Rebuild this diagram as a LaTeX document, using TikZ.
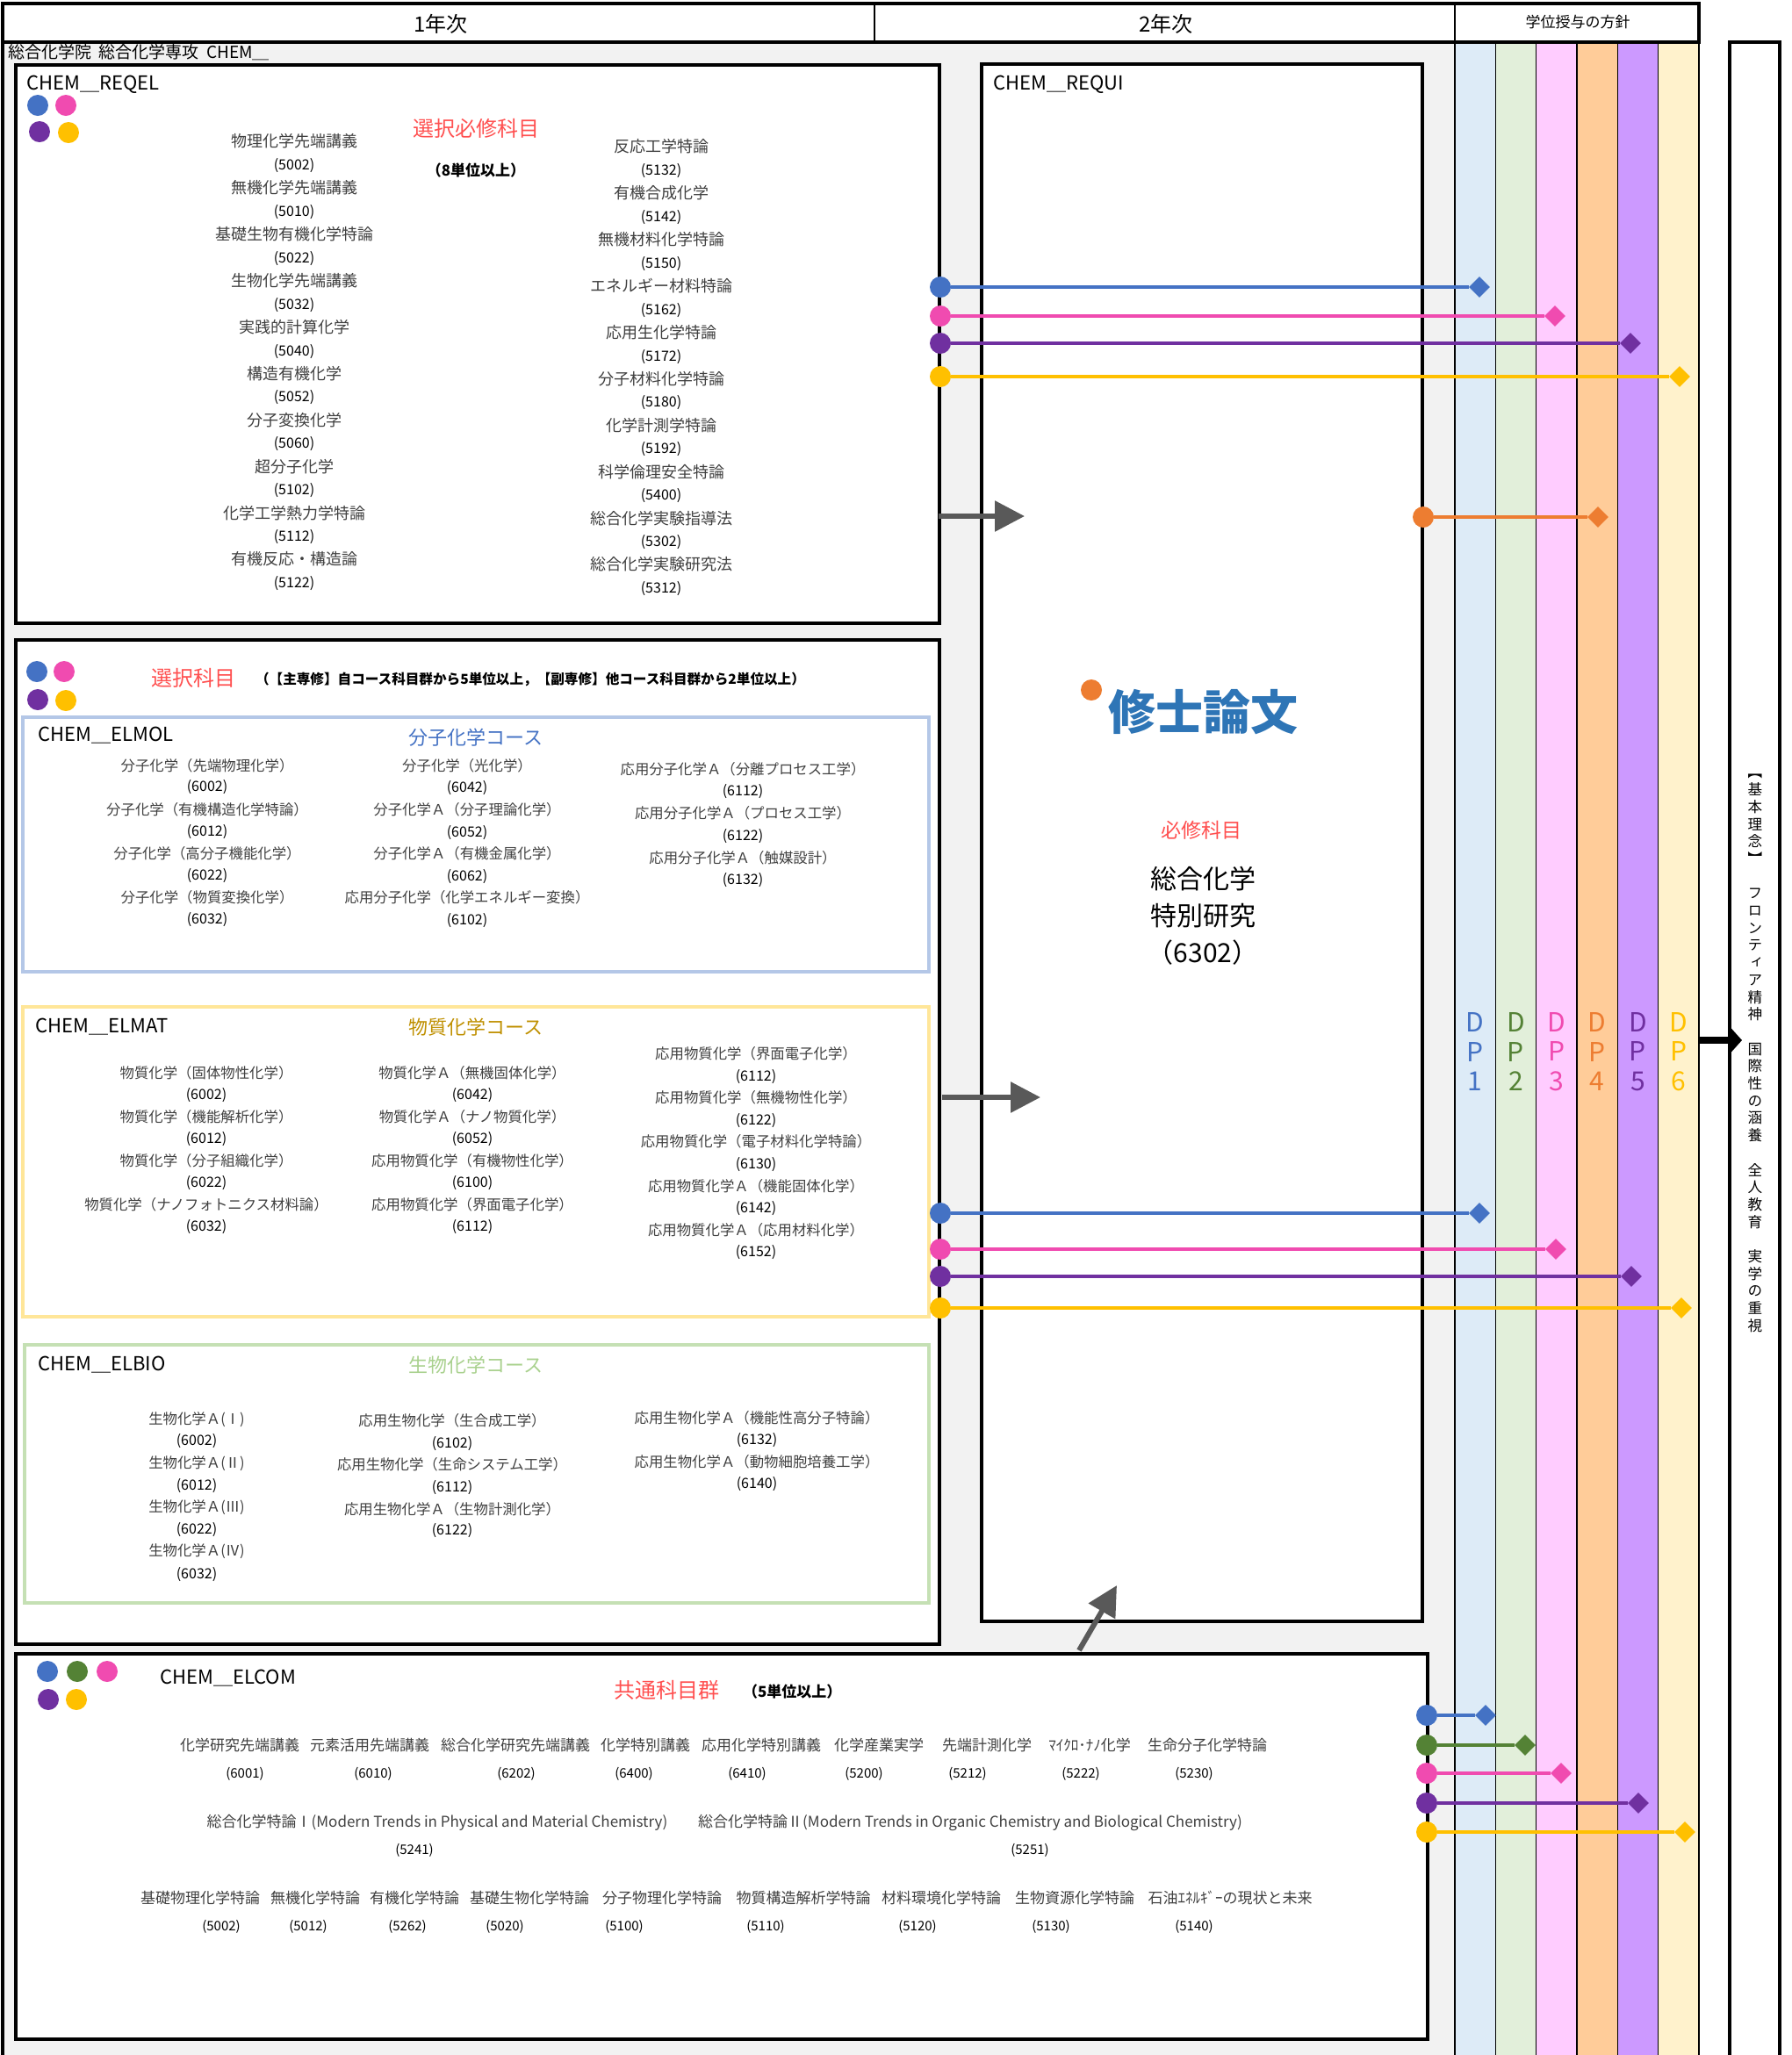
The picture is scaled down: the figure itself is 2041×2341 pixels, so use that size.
\documentclass[tikz,border=0pt]{standalone}
\usepackage{fontspec}
\setmainfont{Noto Sans CJK JP}
\newfontfamily\tatefont{Noto Sans CJK JP}[RawFeature=+vert]
\usetikzlibrary{arrows.meta}
\usetikzlibrary{shapes.geometric}
\definecolor{bggray}{HTML}{F2F2F2}
\definecolor{ttlred}{HTML}{FF5050}
\definecolor{crsgray}{HTML}{404040}
\definecolor{arrowgray}{HTML}{595959}
\definecolor{dpblue}{HTML}{4472C4}
\definecolor{dpgreen}{HTML}{548235}
\definecolor{dppink}{HTML}{F04BB0}
\definecolor{dporange}{HTML}{ED7D31}
\definecolor{dppurple}{HTML}{7030A0}
\definecolor{dpyellow}{HTML}{FFC000}
\definecolor{dp1fill}{HTML}{DDEBF7}
\definecolor{dp2fill}{HTML}{E2EFDA}
\definecolor{dp3fill}{HTML}{FFCCFF}
\definecolor{dp4fill}{HTML}{FFCC99}
\definecolor{dp5fill}{HTML}{CC99FF}
\definecolor{dp6fill}{HTML}{FFF2CC}
\definecolor{molblue}{HTML}{B4C7E7}
\definecolor{matyellow}{HTML}{FFE699}
\definecolor{biogreen}{HTML}{C5E0B4}
\definecolor{mattext}{HTML}{BF9000}
\definecolor{biotext}{HTML}{A9D18E}
\definecolor{thesisblue}{HTML}{2E75B6}
\tikzset{
  cdot/.style={circle, fill=#1, minimum size=12pt, inner sep=0},
  dmnd/.style={diamond, fill=#1, minimum size=12pt, inner sep=0},
  dplink/.style={draw=#1, line width=1.6pt},
  thickbox/.style={line width=2.2pt, fill=white},
  coursebox/.style={line width=2pt, draw=#1, fill=white},
  bigcrs/.style={font=\fontsize{9}{10}\selectfont, text=crsgray},
  crs/.style={font=\fontsize{8.2}{9}\selectfont, text=crsgray},
  comcrs/.style={font=\fontsize{8.5}{10}\selectfont, text=crsgray},
  crsno/.style={font=\fontsize{8}{9}\selectfont},
  comno/.style={font=\fontsize{7.5}{9}\selectfont},
  boxname/.style={anchor=west, inner sep=0, font=\fontsize{11}{12}\selectfont},
  ttl/.style={font=\fontsize{12}{14}\selectfont, text=ttlred},
  note/.style={font=\bfseries\fontsize{8.5}{10}\selectfont},
  course/.style={font=\fontsize{11}{13}\selectfont, text=#1},
  grayarrow/.style={-{Triangle[length=17pt,width=17pt]}, line width=3pt, draw=arrowgray},
  dplabel/.style={align=center, font=\fontsize{15}{16.75}\selectfont, text=#1}
}
\begin{document}
\begin{tikzpicture}[x=0.5pt, y=-0.5pt]
\useasboundingbox (0,0) rectangle (2041,2341);
\fill[bggray] (3,48) rectangle (1657,2345);
\foreach \col [count=\i from 0] in {dp1fill,dp2fill,dp3fill,dp4fill,dp5fill,dp6fill}
  \fill[\col] ({1657+46.3*\i},48) rectangle ({1703.3+46.3*\i},2345);
\foreach \i in {0,...,5}
  \draw[line width=0.6pt] ({1657+46.3*\i},48) -- ({1657+46.3*\i},2345);
\draw[line width=1.2pt] (1935,48) -- (1935,2345);
\draw[line width=2pt] (3,4) rectangle (1935,48);
\draw[line width=2pt] (3,48) -- (3,2345);
\draw[line width=0.8pt] (996,4) -- (996,48);
\draw[line width=0.8pt] (1657,4) -- (1657,48);
\draw[line width=2pt, fill=white] (1970,48) rectangle (2027,2360);

\node[font=\fontsize{12}{14}\selectfont] (year1) at (502,27) {1年次};
\node[font=\fontsize{12}{14}\selectfont] (year2) at (1328,27) {2年次};
\node[font=\fontsize{8.5}{10}\selectfont] (dphead) at (1797,25) {学位授与の方針};
\node[anchor=west, inner sep=0, font=\fontsize{9.5}{11}\selectfont] (dept) at (9,60) {総合化学院~~総合化学専攻~~CHEM＿};

\draw[thickbox] (18,74) rectangle (1070,710);
\draw[thickbox] (18,729) rectangle (1070,1873);
\draw[thickbox] (1118,73) rectangle (1620,1847);
\draw[thickbox] (18,1884) rectangle (1626,2323);
\draw[coursebox=molblue] (26,817) rectangle (1058,1107);
\draw[coursebox=matyellow] (26,1147) rectangle (1058,1500);
\draw[coursebox=biogreen] (28,1532) rectangle (1058,1826);

\node[boxname] (reqel) at (30,96) {CHEM＿REQEL};
\node[boxname] (requi) at (1131,96) {CHEM＿REQUI};
\node[boxname] (elmol) at (43,838) {CHEM＿ELMOL};
\node[boxname] (elmat) at (40,1170) {CHEM＿ELMAT};
\node[boxname] (elbio) at (43,1555) {CHEM＿ELBIO};
\node[boxname] (elcom) at (182,1912) {CHEM＿ELCOM};

\node[cdot=dpblue] (qd1) at (43,120) {};
\node[cdot=dppink] (qd2) at (75,120) {};
\node[cdot=dppurple] (qd3) at (45,150) {};
\node[cdot=dpyellow] (qd4) at (78,151) {};
\node[cdot=dpblue] (ed1) at (42,765) {};
\node[cdot=dppink] (ed2) at (73,765) {};
\node[cdot=dppurple] (ed3) at (43,797) {};
\node[cdot=dpyellow] (ed4) at (75,798) {};
\node[cdot=dpblue] (cd1) at (54,1904) {};
\node[cdot=dpgreen] (cd2) at (88,1904) {};
\node[cdot=dppink] (cd3) at (122,1904) {};
\node[cdot=dppurple] (cd4) at (55,1936) {};
\node[cdot=dpyellow] (cd5) at (87,1936) {};

\node[ttl] (reqttl) at (542,146) {選択必修科目};
\node[note] (requnit) at (542,194) {（8単位以上）};
\node[ttl] (elttl) at (220,772) {選択科目};
\node[note, anchor=west, font=\bfseries\fontsize{7.8}{9}\selectfont] (elunit) at (284,774) {（【主専修】自コース科目群から5単位以上，【副専修】他コース科目群から2単位以上）};
\node[course=dpblue] (molttl) at (542,840) {分子化学コース};
\node[course=mattext] (matttl) at (542,1170) {物質化学コース};
\node[course=biotext] (biottl) at (542,1555) {生物化学コース};
\node[ttl] (comttl) at (759,1925) {共通科目群};
\node[note, anchor=west] (comunit) at (839,1927) {（5単位以上）};

\foreach \nm/\no [count=\i from 0] in {物理化学先端講義/5002, 無機化学先端講義/5010, 基礎生物有機化学特論/5022, 生物化学先端講義/5032, 実践的計算化学/5040, 構造有機化学/5052, 分子変換化学/5060, 超分子化学/5102, 化学工学熱力学特論/5112, 有機反応・構造論/5122}{
  \node[bigcrs] (ql\i) at (335,{161+52.9*\i}) {\nm};
  \node[crsno] (qln\i) at (335,{188.5+52.9*\i}) {(\no)};
}
\foreach \nm/\no [count=\i from 0] in {反応工学特論/5132, 有機合成化学/5142, 無機材料化学特論/5150, エネルギー材料特論/5162, 応用生化学特論/5172, 分子材料化学特論/5180, 化学計測学特論/5192, 科学倫理安全特論/5400, 総合化学実験指導法/5302, 総合化学実験研究法/5312}{
  \node[bigcrs] (qr\i) at (753,{167+52.9*\i}) {\nm};
  \node[crsno] (qrn\i) at (753,{194.5+52.9*\i}) {(\no)};
}

\foreach \nm/\no [count=\i from 0] in {分子化学（先端物理化学）/6002, 分子化学（有機構造化学特論）/6012, 分子化学（高分子機能化学）/6022, 分子化学（物質変換化学）/6032}{
  \node[crs] (ma\i) at (236,{872+50.2*\i}) {\nm};
  \node[crsno] (man\i) at (236,{897+50.2*\i}) {(\no)};
}
\foreach \nm/\no [count=\i from 0] in {分子化学（光化学）/6042, 分子化学Ａ（分子理論化学）/6052, 分子化学Ａ（有機金属化学）/6062, 応用分子化学（化学エネルギー変換）/6102}{
  \node[crs] (mb\i) at (532,{872+50.2*\i}) {\nm};
  \node[crsno] (mbn\i) at (532,{898+50.2*\i}) {(\no)};
}
\foreach \nm/\no [count=\i from 0] in {応用分子化学Ａ（分離プロセス工学）/6112, 応用分子化学Ａ（プロセス工学）/6122, 応用分子化学Ａ（触媒設計）/6132}{
  \node[crs] (mc\i) at (846,{876+50.5*\i}) {\nm};
  \node[crsno] (mcn\i) at (846,{902+50.3*\i}) {(\no)};
}

\foreach \nm/\no [count=\i from 0] in {物質化学（固体物性化学）/6002, 物質化学（機能解析化学）/6012, 物質化学（分子組織化学）/6022, 物質化学（ナノフォトニクス材料論）/6032}{
  \node[crs] (ta\i) at (235,{1222+50*\i}) {\nm};
  \node[crsno] (tan\i) at (235,{1248+50*\i}) {(\no)};
}
\foreach \nm/\no [count=\i from 0] in {物質化学Ａ（無機固体化学）/6042, 物質化学Ａ（ナノ物質化学）/6052, 応用物質化学（有機物性化学）/6100, 応用物質化学（界面電子化学）/6112}{
  \node[crs] (tb\i) at (538,{1222+50*\i}) {\nm};
  \node[crsno] (tbn\i) at (538,{1248+50*\i}) {(\no)};
}
\foreach \nm/\no [count=\i from 0] in {応用物質化学（界面電子化学）/6112, 応用物質化学（無機物性化学）/6122, 応用物質化学（電子材料化学特論）/6130, 応用物質化学Ａ（機能固体化学）/6142, 応用物質化学Ａ（応用材料化学）/6152}{
  \node[crs] (tc\i) at (861,{1200+50.3*\i}) {\nm};
  \node[crsno] (tcn\i) at (861,{1227+50*\i}) {(\no)};
}

\foreach \nm/\no [count=\i from 0] in {生物化学Ａ(Ⅰ)/6002, 生物化学Ａ(Ⅱ)/6012, 生物化学Ａ(Ⅲ)/6022, 生物化学Ａ(Ⅳ)/6032}{
  \node[crs] (ba\i) at (224,{1617+50*\i}) {\nm};
  \node[crsno] (ban\i) at (224,{1642+50.4*\i}) {(\no)};
}
\foreach \nm/\no [count=\i from 0] in {応用生物化学（生合成工学）/6102, 応用生物化学（生命システム工学）/6112, 応用生物化学Ａ（生物計測化学）/6122}{
  \node[crs] (bb\i) at (515,{1618+50.5*\i}) {\nm};
  \node[crsno] (bbn\i) at (515,{1645+49.5*\i}) {(\no)};
}
\foreach \nm/\no [count=\i from 0] in {応用生物化学Ａ（機能性高分子特論）/6132, 応用生物化学Ａ（動物細胞培養工学）/6140}{
  \node[crs] (bc\i) at (862,{1615+50*\i}) {\nm};
  \node[crsno] (bcn\i) at (862,{1641+50*\i}) {(\no)};
}

\foreach \nm/\x/\no/\xn [count=\i] in {化学研究先端講義/273/6001/279, 元素活用先端講義/421/6010/425, 総合化学研究先端講義/587/6202/588, 化学特別講義/735/6400/722, 応用化学特別講義/867/6410/851, 化学産業実学/1001/5200/984, 先端計測化学/1124/5212/1102, ﾏｲｸﾛ･ﾅﾉ化学/1241/5222/1231, 生命分子化学特論/1375/5230/1360}{
  \node[comcrs] (ca\i) at (\x,1988) {\nm};
  \node[comno] (can\i) at (\xn,2021) {(\no)};
}
\node[comcrs] (cb1) at (498,2076) {総合化学特論Ⅰ(Modern Trends in Physical and Material Chemistry)};
\node[comno] (cbn1) at (472,2108) {(5241)};
\node[comcrs] (cb2) at (1105,2076) {総合化学特論Ⅱ(Modern Trends in Organic Chemistry and Biological Chemistry)};
\node[comno] (cbn2) at (1173,2108) {(5251)};
\foreach \nm/\x/\no/\xn [count=\i] in {基礎物理化学特論/228/5002/252, 無機化学特論/359/5012/351, 有機化学特論/472/5262/464, 基礎生物化学特論/603/5020/575, 分子物理化学特論/754/5100/711, 物質構造解析学特論/915/5110/872, 材料環境化学特論/1072/5120/1045, 生物資源化学特論/1224/5130/1197, 石油ｴﾈﾙｷﾞｰの現状と未来/1401/5140/1360}{
  \node[comcrs] (cc\i) at (\x,2162) {\nm};
  \node[comno] (ccn\i) at (\xn,2195) {(\no)};
}

\node[cdot=dporange] (thdot) at (1243,786) {};
\node[font=\bfseries\fontsize{27}{30}\selectfont, text=thesisblue] (thesis) at (1370,811) {修士論文};
\node[font=\fontsize{11.5}{13}\selectfont, text=ttlred] (reqlbl) at (1368,946) {必修科目};
\node[align=center, font=\fontsize{15}{21}\selectfont] (research) at (1370,1043) {総合化学\\特別研究\\（6302）};

\foreach \col [count=\i from 1] in {dpblue,dpgreen,dppink,dporange,dppurple,dpyellow}
  \node[dplabel=\col] (dp\i) at ({1633.85+46.3*\i},1198) {D\\P\\\i};

\node[align=center, inner sep=0, font=\tatefont\fontsize{8.3}{9.85}\selectfont] (ideal) at (1999,1200) {【\\基\\本\\理\\念\\】\\　\\フ\\ロ\\ン\\テ\\ィ\\ア\\精\\神\\　\\国\\際\\性\\の\\涵\\養\\　\\全\\人\\教\\育\\　\\実\\学\\の\\重\\視};

\coordinate (ga1s) at (1069,588);
\coordinate (ga1e) at (1167,588);
\coordinate (ga2s) at (1073,1250);
\coordinate (ga2e) at (1185,1250);
\coordinate (ga3s) at (1229,1880);
\coordinate (ga3e) at (1272,1806);
\coordinate (ba1s) at (1936,1185);
\coordinate (ba1e) at (1984,1185);
\draw[grayarrow] (ga1s) -- (ga1e);
\draw[grayarrow] (ga2s) -- (ga2e);
\draw[grayarrow] (ga3s) -- (ga3e);
\draw[-{Triangle[length=6pt,width=13pt]}, line width=4pt] (ba1s) -- (ba1e);

\foreach \col/\y/\x [count=\i] in {dpblue/327/1685, dppink/360/1771, dppurple/391/1857, dpyellow/429/1913}{
  \node[cdot=\col] (qa\i) at (1071,\y) {};
  \node[dmnd=\col] (qb\i) at (\x,\y) {};
  \draw[dplink=\col] (qa\i) -- (qb\i);
}
\foreach \col/\y/\x [count=\i] in {dpblue/1382/1685, dppink/1423/1772, dppurple/1454/1858, dpyellow/1490/1915}{
  \node[cdot=\col] (ta\i) at (1071,\y) {};
  \node[dmnd=\col] (tb\i) at (\x,\y) {};
  \draw[dplink=\col] (ta\i) -- (tb\i);
}
\foreach \col/\y/\x [count=\i] in {dpblue/1954/1692, dpgreen/1988/1737, dppink/2020/1778, dppurple/2054/1866, dpyellow/2087/1919}{
  \node[cdot=\col] (ka\i) at (1625,\y) {};
  \node[dmnd=\col] (kb\i) at (\x,\y) {};
  \draw[dplink=\col] (ka\i) -- (kb\i);
}
\node[dmnd=dporange] (thdm) at (1820,589) {};
\node[cdot=dporange] (thsrc) at (1621,589) {};
\draw[dplink=dporange] (thsrc) -- (thdm);
\end{tikzpicture}
\end{document}
